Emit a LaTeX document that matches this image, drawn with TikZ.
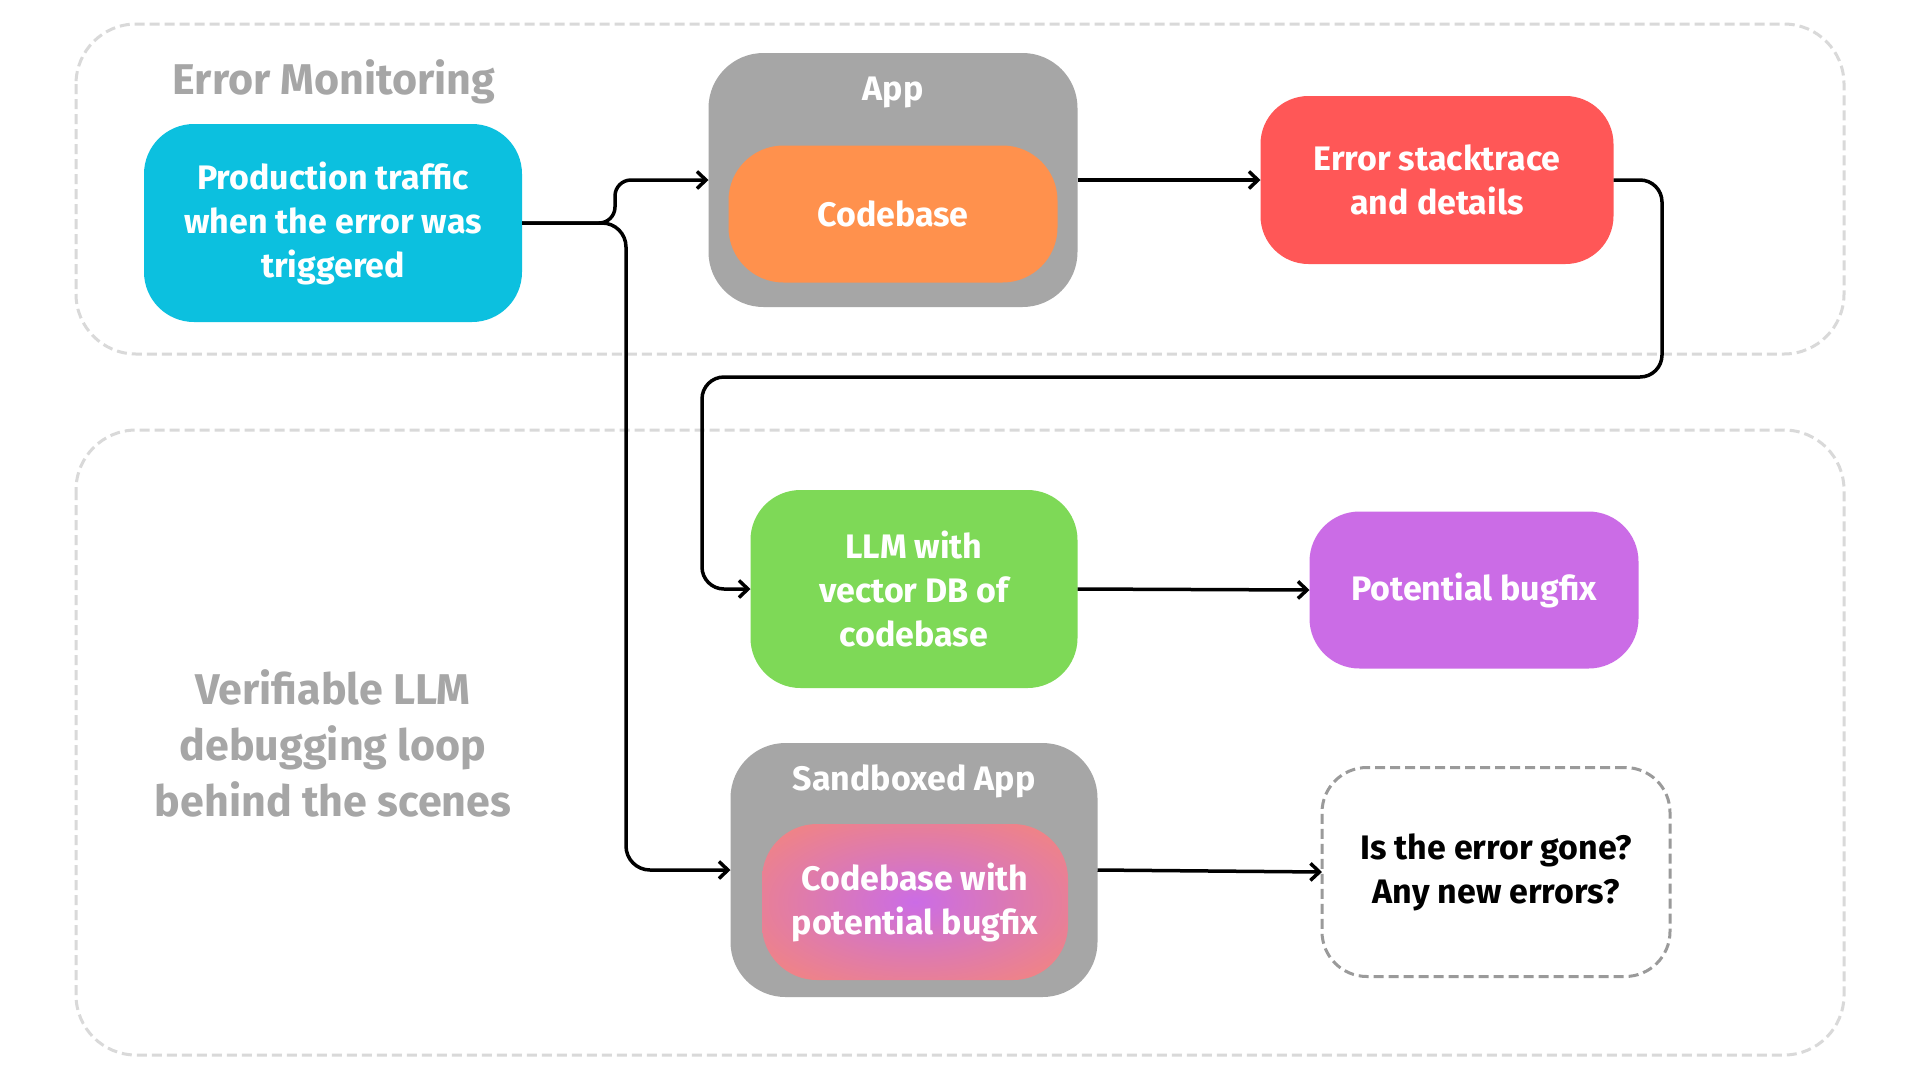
\documentclass[tikz,border=0pt]{standalone}
\usepackage{fontspec}
\setmainfont{Fira Sans}
\usetikzlibrary{arrows.meta}
\definecolor{cCyan}{HTML}{0CC0DF}
\definecolor{cOrange}{HTML}{FF914D}
\definecolor{cRed}{HTML}{FF5757}
\definecolor{cGreen}{HTML}{7ED957}
\definecolor{cPurple}{HTML}{CB6CE6}
\definecolor{cMauve}{HTML}{DA78B8}
\definecolor{cSalmon}{HTML}{F3857E}
\definecolor{cGray}{HTML}{A6A6A6}
\definecolor{cFrame}{HTML}{D9D9D9}
\definecolor{cDash}{HTML}{9A9A9A}
\pgfdeclareradialshading{bugfixshade}{\pgfpoint{0bp}{0bp}}{color(0bp)=(cPurple); color(14bp)=(cMauve); color(34bp)=(cSalmon); color(50bp)=(cOrange); color(100bp)=(cOrange)}
\tikzset{
  boxnode/.style={rounded corners=#1, inner sep=0pt, outer sep=0pt, align=center, text=white,
    font=\fontsize{34}{44}\selectfont\bfseries},
  frame/.style={draw=cFrame, line width=3pt, dash pattern=on 10pt off 5pt, rounded corners=60pt},
  lbl/.style={text=cGray, align=center, inner sep=0pt},
  arr/.style={draw=black, line width=3.5pt, -{Straight Barb[length=9pt,width=17pt,line width=3.5pt]}},
}
\begin{document}
\begin{tikzpicture}[x=1pt,y=-1pt]
\useasboundingbox[fill=white] (0,0) rectangle (1920,1080);
% containers
\draw[frame] (76,24) rectangle (1844,354);
\draw[frame] (76,430) rectangle (1844,1055);
% section labels
\node[lbl, font=\fontsize{43}{44}\selectfont\bfseries] (lblmon) at (334,82) {Error Monitoring};
\node[lbl, font=\fontsize{43}{56}\selectfont\bfseries] (lblloop) at (333,743) {Verifiable LLM\\debugging loop\\behind the scenes};
% nodes
\node[boxnode=50pt, fill=cCyan, minimum width=378pt, minimum height=198pt] (prod) at (333,223) {Production traffic\\when the error was\\triggered};
\node[boxnode=55pt, fill=cGray, minimum width=369pt, minimum height=254pt] (app) at (893,180) {};
\node[lbl, text=white, font=\fontsize{34}{44}\selectfont\bfseries] (applbl) at (893,92) {App};
\node[boxnode=55pt, fill=cOrange, minimum width=329pt, minimum height=137pt] (code) at (893,214) {Codebase};
\node[boxnode=48pt, fill=cRed, minimum width=353pt, minimum height=168pt] (err) at (1437,180) {Error stacktrace\\and details};
\node[boxnode=50pt, fill=cGreen, minimum width=327pt, minimum height=198pt] (llm) at (914,589) {LLM with\\vector DB of\\codebase};
\node[boxnode=50pt, fill=cPurple, minimum width=329pt, minimum height=157pt] (fix) at (1474,590) {Potential bugfix};
\node[boxnode=55pt, fill=cGray, minimum width=367pt, minimum height=254pt] (sand) at (914,870) {};
\node[lbl, text=white, font=\fontsize{34}{44}\selectfont\bfseries] (sandlbl) at (914,781) {Sandboxed App};
\node[boxnode=55pt, shading=bugfixshade, minimum width=306pt, minimum height=156pt] (codefix) at (915,902) {Codebase with\\potential bugfix};
\node[boxnode=45pt, text=black, draw=cDash, line width=3pt, dash pattern=on 10pt off 5pt, minimum width=348pt, minimum height=209pt] (check) at (1496,872) {Is the error gone?\\Any new errors?};
% connectors
\draw[arr, rounded corners=16pt] (prod.east) -- (615,223) |- (app.west);
\draw[arr, rounded corners=24pt] (prod.east) -- (626,223) |- (sand.west);
\draw[arr] (app.east) -- (err.west);
\draw[arr, rounded corners=22pt] (err.east) -- (1662,180) -- (1662,377) -- (702,377) |- (llm.west);
\draw[arr] (llm.east) -- (fix.west);
\draw[arr] (sand.east) -- (check.west);
\end{tikzpicture}
\end{document}
